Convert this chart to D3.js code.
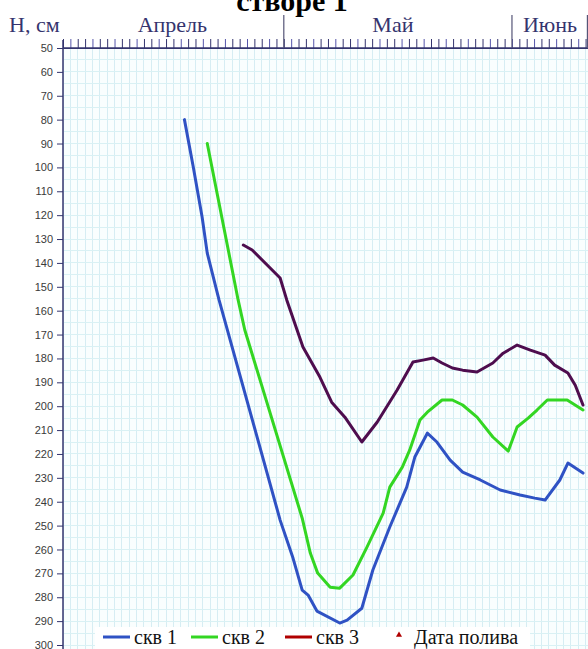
<!DOCTYPE html>
<html><head><meta charset="utf-8">
<script src="https://cdn.jsdelivr.net/npm/d3@7"></script>
<style>
html,body{margin:0;padding:0;background:#fff;overflow:hidden;}
svg{display:block;}
</style>
</head><body>
<svg id="chart" width="588" height="649"></svg>
<script>
// ---- data (day counted from 1 April, depth H in cm) ----
const title = "створе 1";
const yLabel = "Н, см";
const months = ["Апрель", "Май", "Июнь"];
const monthStartDays = [0, 30, 61];
const monthEndDays = [30, 61, 91];
const yTicks = [50,60,70,80,90,100,110,120,130,140,150,160,170,180,190,200,210,220,230,240,250,260,270,280,290,300];
const seriesNames = ["скв 1", "скв 2", "скв 3"];
const legendExtra = "Дата полива";

const skv1Days = [16.5,17.7,18.9,19.6,21.2,29.5,31.25,32.5,33.3,34.5,37.6,38.6,40.6,42.1,44.4,46.7,47.8,49.5,50.8,52.6,54.3,56.7,59.4,62.1,64.1,65.5,67.5,68.6,70.65];
const skv1H    = [80,99.8,120.8,135.9,155.5,247.7,263.6,277,279.1,285.8,290.8,289.6,284.6,268.6,250.6,233.9,221.3,211.3,215,222.6,227.6,230.9,235.1,237.2,238.5,239.3,230.9,223.8,228];

const skv2Days = [19.6,23.8,24.7,32.5,33.6,34.6,36.3,37.6,39.4,41.3,43.5,44.4,46.1,47.1,48.5,49.5,51.5,52.9,54.3,56.25,58.4,60.5,61.7,63.2,64.4,65.8,68.5,70.65];
const skv2H    = [90,155.6,168.1,246.9,261.5,269.9,275.8,276.2,270.7,259,244.8,233.9,225.5,218.4,205.8,202.5,197.4,197.4,199.5,204.6,212.9,218.8,208.7,205,201.6,197.4,197.4,201.6];

const skv3Days = [24.5,25.7,29.5,30.4,32.6,34.9,36.5,38.3,40.6,42.7,45.4,47.55,48.9,50.3,51.5,52.9,54.3,56.25,58.4,59.8,61.7,63.5,65.5,66.8,68.6,69.6,70.65];
const skv3H    = [132.5,134.6,146.3,155.5,175.2,187.8,198.3,204.6,215,206.6,193.2,181.5,180.7,179.8,181.9,184,184.9,185.7,181.9,177.8,174.4,176.5,178.6,182.8,186.1,191.2,199.5];

// ---- styles / layout ----
const pLeft = 63, pTop = 48, pRight = 588, pBottom = 649;
const lineColors = ["#2f52c4", "#33d622", "#4e0d4e"];
const legendColors = ["#2f52c4", "#33d622", "#b00000"];
const navy = "#34346e";
const serif = "Liberation Serif, Times New Roman, serif";

const svg = d3.select("#chart");
const x = d3.scaleLinear().domain([0, 71.33]).range([pLeft, pRight]);
const y = d3.scaleLinear().domain([50, 300]).range([pTop, 645]);

// plot background
svg.append("rect").attr("x", pLeft).attr("y", pTop).attr("width", pRight - pLeft).attr("height", pBottom - pTop)
  .attr("fill", "#f9fefe");

// grid
const dayList = d3.range(0, 72);
svg.append("g").selectAll("line").data(dayList).join("line")
  .attr("x1", d => x(d)).attr("x2", d => x(d)).attr("y1", pTop).attr("y2", pBottom)
  .attr("stroke", "#d6edf3").attr("stroke-width", 1).attr("shape-rendering", "crispEdges");
const hGrid = d3.range(55, 305, 5);
svg.append("g").selectAll("line").data(hGrid).join("line")
  .attr("x1", pLeft).attr("x2", pRight).attr("y1", d => y(d)).attr("y2", d => y(d))
  .attr("stroke", "#d9f1f4").attr("stroke-width", 1).attr("shape-rendering", "crispEdges");

// series lines
const series = [[skv1Days, skv1H], [skv2Days, skv2H], [skv3Days, skv3H]];
const line = d3.line().x(d => x(d[0])).y(d => y(d[1]));
series.forEach((s, i) => {
  const pts = s[0].map((d, k) => [d, s[1][k]]);
  svg.append("path").datum(pts).attr("d", line).attr("fill", "none")
    .attr("stroke", lineColors[i]).attr("stroke-width", 3).attr("stroke-linejoin", "round").attr("stroke-linecap", "round");
});

// y axis
const yAxis = d3.axisLeft(y).tickValues(yTicks).tickSize(6).tickSizeOuter(0).tickFormat(d3.format("d"));
const gy = svg.append("g").attr("transform", `translate(${pLeft},0)`).call(yAxis);
gy.select(".domain").remove();
gy.selectAll(".tick line").attr("stroke", navy);
gy.selectAll(".tick text").attr("font-family", "Liberation Sans, Arial, sans-serif").attr("font-size", 11).attr("fill", "#3a3a3a").attr("x", -10);
svg.append("line").attr("x1", pLeft).attr("x2", pLeft).attr("y1", 40).attr("y2", pBottom).attr("stroke", navy).attr("stroke-width", 1.5);

// top day axis
const xAxis = d3.axisTop(x).tickValues(dayList).tickSize(9).tickSizeOuter(0).tickFormat("");
const gx = svg.append("g").attr("transform", `translate(0,${pTop})`).call(xAxis);
gx.select(".domain").attr("stroke", navy);
gx.selectAll(".tick line").attr("stroke", (d, i) => i % 3 === 1 ? "#5555aa" : navy);
svg.append("line").attr("x1", pLeft).attr("x2", pRight).attr("y1", pTop).attr("y2", pTop).attr("stroke", navy).attr("stroke-width", 1.5);
// month boundaries
svg.append("g").selectAll("line").data(monthStartDays.slice(1).concat([71.25])).join("line")
  .attr("x1", d => x(d)).attr("x2", d => x(d)).attr("y1", 15).attr("y2", pTop)
  .attr("stroke", "#555577").attr("stroke-width", 1.2);
// month labels
const monthShift = [-1, -5, 0];
months.forEach((m, i) => {
  const a = x(monthStartDays[i]), b = Math.min(x(monthEndDays[i]), pRight);
  svg.append("text").attr("x", (a + b) / 2 + monthShift[i]).attr("y", 32).attr("text-anchor", "middle")
    .attr("font-family", serif).attr("font-size", 22).attr("fill", navy).text(m);
});
svg.append("text").attr("x", 9).attr("y", 32).attr("font-family", serif)
  .attr("font-size", 22).attr("fill", navy).text(yLabel);

// title (cropped at top)
svg.append("text").attr("x", 292).attr("y", 11).attr("text-anchor", "middle")
  .attr("font-family", serif).attr("font-weight", "bold")
  .attr("font-size", 30).attr("fill", "#000").text(title);

// legend
const lg = svg.append("g");
lg.append("rect").attr("x", 95).attr("y", 627).attr("width", 435).attr("height", 22).attr("fill", "#fff");
const legX = [103, 191, 285];
seriesNames.forEach((n, i) => {
  lg.append("line").attr("x1", legX[i]).attr("x2", legX[i] + 27).attr("y1", 637).attr("y2", 637)
    .attr("stroke", legendColors[i]).attr("stroke-width", 3);
  lg.append("text").attr("x", legX[i] + 31).attr("y", 644).attr("font-family", serif)
    .attr("font-size", 20).attr("fill", "#111").text(n);
});
lg.append("path").attr("d", d3.symbol(d3.symbolTriangle, 16)()).attr("transform", "translate(399,635)").attr("fill", "#b00000");
lg.append("text").attr("x", 414).attr("y", 644).attr("font-family", serif)
  .attr("font-size", 20).attr("fill", "#111").text(legendExtra);
</script>
</body></html>
